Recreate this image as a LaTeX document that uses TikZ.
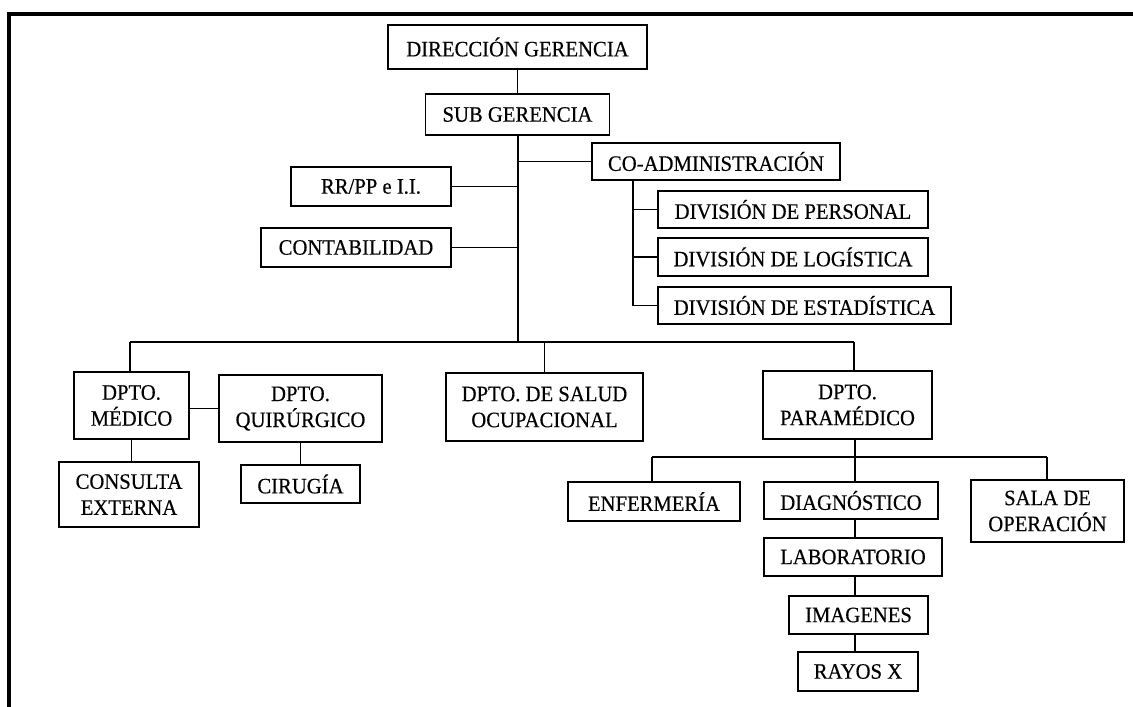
\documentclass[tikz,border=0pt]{standalone}
\usepackage{fontspec}
\setmainfont{Liberation Serif}[FakeStretch=0.94,FakeBold=0.4]
\begin{document}
\begin{tikzpicture}[x=1pt,y=-1pt,
  box/.style={draw,line width=1.7pt,inner sep=0pt,align=center,
    font=\fontsize{22}{26}\selectfont},
  link/.style={line width=1.7pt},
  frame/.style={line width=3.6pt}]
\useasboundingbox (0,0) rectangle (1133,707);
% outer frame (top and left edges)
\draw[frame] (9,707) -- (9,14) -- (1133,14);

% top management
\node[box,minimum width=259pt,minimum height=44pt] (dg) at (517.5,47) {DIRECCIÓN GERENCIA};
\node[box,minimum width=184pt,minimum height=41pt] (sg) at (517.5,114.5) {SUB GERENCIA};
\node[box,minimum width=248pt,minimum height=37pt] (coadm) at (716,161.5) {CO-ADMINISTRACIÓN};
\node[box,minimum width=160pt,minimum height=39pt] (rrpp) at (371,186.5) {RR/PP e I.I.};
\node[box,minimum width=190pt,minimum height=39pt] (cont) at (356,247.5) {CONTABILIDAD};

% divisions
\node[box,minimum width=270pt,minimum height=37pt] (dper) at (793,209.5) {DIVISIÓN DE PERSONAL};
\node[box,minimum width=270pt,minimum height=38pt] (dlog) at (793,257) {DIVISIÓN DE LOGÍSTICA};
\node[box,minimum width=293pt,minimum height=37pt] (dest) at (804.5,305.5) {DIVISIÓN DE ESTADÍSTICA};

% departments
\node[box,minimum width=115pt,minimum height=67pt] (med) at (131.5,405.5) {DPTO.\\MÉDICO};
\node[box,minimum width=163pt,minimum height=67pt] (quir) at (300.5,408.5) {DPTO.\\QUIRÚRGICO};
\node[box,minimum width=140pt,minimum height=65pt] (cext) at (129,494.5) {CONSULTA\\EXTERNA};
\node[box,minimum width=119pt,minimum height=38pt] (cir) at (300.5,484) {CIRUGÍA};
\node[box,minimum width=197pt,minimum height=68pt] (salud) at (544.5,407) {DPTO. DE SALUD\\OCUPACIONAL};
\node[box,minimum width=169pt,minimum height=68pt] (para) at (847.5,405) {DPTO.\\PARAMÉDICO};

% paramedical services
\node[box,minimum width=172pt,minimum height=39pt] (enf) at (654,501.5) {ENFERMERÍA};
\node[box,minimum width=174pt,minimum height=37pt] (diag) at (851,500.5) {DIAGNÓSTICO};
\node[box,minimum width=153pt,minimum height=62pt] (sala) at (1047.5,511) {SALA DE\\OPERACIÓN};
\node[box,minimum width=178pt,minimum height=38pt] (lab) at (853,557) {LABORATORIO};
\node[box,minimum width=139pt,minimum height=38pt] (img) at (858.5,615) {IMAGENES};
\node[box,minimum width=120pt,minimum height=39pt] (rx) at (858,671.5) {RAYOS X};

% guide points of the connectors
\coordinate (trunk) at (518,135);
\coordinate (busL) at (130,342);
\coordinate (busR) at (854,342);
\coordinate (dcol) at (633,180);
\coordinate (pcol) at (855,457);
\coordinate (pbusL) at (652,457);
\coordinate (pbusR) at (1047,457);

% main line
\draw[link] (dg) -- (sg);
\draw[link] (sg.south -| trunk) -- (trunk |- busL);
\draw[link] (busL) -- (busR);
\draw[link] (coadm.west) -- (coadm.west -| trunk);
\draw[link] (rrpp.east) -- (rrpp.east -| trunk);
\draw[link] (cont.east) -- (cont.east -| trunk);

% divisions under co-administration
\draw[link] (coadm.south -| dcol) -- (dest.west -| dcol) -- (dest.west);
\draw[link] (dper.west) -- (dper.west -| dcol);
\draw[link] (dlog.west) -- (dlog.west -| dcol);

% departments
\draw[link] (busL) -- (med.north -| busL);
\draw[link] (quir.west) -- (quir.west -| med.east);
\draw[link] (med.south) -- (med.south |- cext.north);
\draw[link] (quir.south) -- (quir.south |- cir.north);
\draw[link] (salud.north) -- (salud.north |- busL);
\draw[link] (busR) -- (para.north -| busR);

% paramedical services
\draw[link] (para.south -| pcol) -- (diag.north -| pcol);
\draw[link] (pbusL) -- (pbusR);
\draw[link] (pbusL) -- (enf.north -| pbusL);
\draw[link] (pbusR) -- (sala.north -| pbusR);
\draw[link] (diag.south -| pcol) -- (lab.north -| pcol);
\draw[link] (lab.south -| pcol) -- (img.north -| pcol);
\draw[link] (img.south -| pcol) -- (rx.north -| pcol);
\end{tikzpicture}
\end{document}
